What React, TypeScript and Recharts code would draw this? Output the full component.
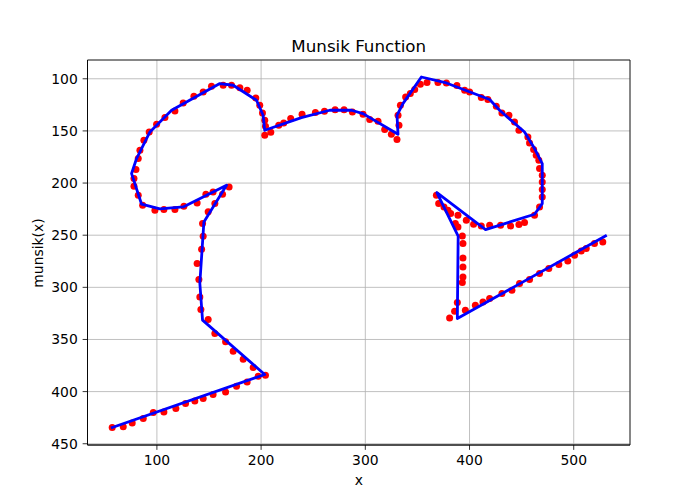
import React from 'react';
import { ScatterChart, Scatter, XAxis, YAxis, CartesianGrid, ReferenceArea } from 'recharts';

// Red sample points (x, munsik(x))
const pointsX = [
  57.1, 67.7, 76.3, 86.9, 96.5, 106.7, 118.2, 127.5, 136.4, 144.4, 153.9, 165.9, 176.4, 186.6, 197.2, 204.2,
  192.4, 182.8, 173.2, 165.9, 155.6, 149.2, 142.2, 141.2, 140.3, 138.6, 142.9, 144.4, 143.8, 149.2, 155.6, 163.0,
  169.3, 153.9, 147.0, 138.6, 125.9, 117.3, 106.7, 98.1, 86.3, 82.1, 78.0, 78.0, 79.9, 82.1, 83.7, 87.5, 92.6,
  99.7, 107.7, 117.3, 125.2, 135.5, 144.4, 152.4, 163.6, 171.6, 179.6, 186.6, 194.9, 198.7, 201.3, 203.5, 204.2,
  203.5, 209.3, 216.9, 221.7, 228.4,
  239.3, 252.1, 260.8, 271.0, 279.6, 287.6, 297.8, 304.2, 312.2, 318.6, 325.0, 330.4, 332.3, 331.4, 333.7, 338.7, 343.2,
  347.4, 352.8, 359.2, 369.7, 377.8, 387.9, 395.3, 400.1, 411.3, 417.6, 425.7, 431.1, 437.8, 443.2, 447.4, 456.0,
  457.6, 461.5, 464.0, 466.5, 467.2, 469.8, 469.8, 469.8, 469.8, 467.2, 462.4,
  452.8, 447.4, 439.4, 429.8, 419.3, 411.3, 403.9, 396.9, 388.9, 381.9, 379.3, 375.5, 370.4, 368.2, 386.4, 388.9,
  393.1, 393.7, 393.7, 393.7, 393.7, 393.1, 388.3, 385.7, 380.9, 396.0, 405.6, 412.9, 419.3, 431.1, 440.7, 448.0,
  457.6, 467.2,
  476.1, 485.7, 494.3, 500.8, 507.2, 512.0, 519.9, 527.9,
];
const pointsY = [
  434.4, 433.8, 430.0, 425.8, 420.0, 419.5, 416.2, 411.4, 408.9, 406.6, 402.8, 400.3, 394.8, 390.7, 385.2, 384.3,
  376.9, 368.9, 361.3, 352.3, 344.3, 330.9, 321.3, 309.2, 292.5, 277.2, 263.5, 251.0, 238.8, 227.6, 219.6, 210.7,
  203.7, 208.5, 210.7, 219.1, 222.2, 225.4, 225.4, 226.1, 221.3, 211.7, 203.1, 195.7, 187.1, 176.5, 168.6, 159.0, 151.0,
  143.6, 137.2, 130.9, 123.2, 116.8, 112.7, 107.2, 106.2, 106.2, 108.5, 111.0, 118.4, 125.4, 132.8, 139.8, 145.5,
  154.2, 151.3, 144.6, 142.4, 138.2,
  134.0, 132.4, 131.2, 129.6, 129.6, 131.8, 134.0, 139.1, 140.7, 148.7, 153.2, 158.3, 144.6, 135.0, 125.4, 117.4, 114.2,
  110.4, 105.3, 103.6, 103.6, 104.0, 106.5, 111.0, 112.6, 118.0, 119.9, 126.4, 132.8, 135.0, 141.4, 149.4, 155.8,
  161.6, 167.9, 173.3, 178.1, 186.1, 192.5, 198.9, 206.2, 213.3, 222.9, 230.9,
  237.9, 239.8, 241.1, 240.5, 240.5, 241.1, 239.5, 235.7, 230.9, 229.3, 226.1, 222.9, 219.7, 211.7, 238.8, 242.1,
  250.7, 258.0, 271.8, 280.4, 290.0, 295.4, 314.6, 322.9, 329.3, 322.0, 317.2, 314.0, 310.7, 306.0, 302.8, 296.4,
  292.5, 286.8,
  282.0, 278.1, 274.7, 269.2, 265.1, 262.8, 258.0, 256.5,
];

// Blue polyline vertices
const lineX = [
  57.1, 203.5, 143.8, 141.2, 145.1, 166.8, 125.2, 102.9, 85.3, 75.7, 80.5, 93.3, 114.1, 160.4, 173.2, 195.6,
  201.9, 203.5, 238.7, 265.9, 286.7, 297.8, 331.4, 330.4, 336.1, 353.8, 377.8, 419.3, 428.9, 452.8, 462.4, 469.8,
  469.8, 462.4, 415.4, 368.7, 389.1, 388.3, 530.5,
];
const lineY = [
  434.4, 383.6, 331.5, 296.1, 237.3, 202.1, 222.9, 224.8, 220.3, 190.9, 176.5, 151.0, 130.2, 104.6, 106.2, 120.6,
  135.0, 149.4, 137.2, 130.2, 130.2, 133.4, 153.2, 135.0, 123.8, 98.3, 104.0, 119.9, 130.2, 151.0, 166.9, 181.3,
  219.7, 229.9, 244.6, 209.1, 251.0, 329.9, 250.7,
];

const xTicks = [100, 200, 300, 400, 500];
const yTicks = [100, 150, 200, 250, 300, 350, 400, 450];

const points = pointsX.map((x, i) => ({ x, y: pointsY[i] }));
const lineData = lineX.map((x, i) => ({ x, y: lineY[i] }));

const X_DOMAIN: [number, number] = [33.4, 554];
const Y_DOMAIN: [number, number] = [82, 451.2];

const font = '"DejaVu Sans", sans-serif';
const tickStyle = { fontFamily: font, fontSize: 13.9, fill: '#000' };

const Dot = (props: any) => {
  const { cx, cy } = props;
  if (cx == null || cy == null) return <g />;
  return <circle cx={cx} cy={cy} r={3.5} fill="#ff0000" />;
};
const NoDot = () => <g />;

export default function App() {
  return (
    <div style={{ position: 'absolute', left: 0, top: 0, width: 700, height: 500, background: '#fff' }}>
      <ScatterChart width={700} height={500} margin={{ top: 60, right: 70, bottom: 15, left: 27.5 }}>
        <CartesianGrid stroke="#b0b0b0" strokeWidth={0.8} />
        <XAxis
          type="number"
          dataKey="x"
          domain={X_DOMAIN}
          ticks={xTicks}
          allowDataOverflow
          height={40}
          tick={tickStyle}
          tickSize={4.86}
          tickMargin={4.86}
          axisLine={{ stroke: '#000', strokeWidth: 0.8 }}
          tickLine={{ stroke: '#000', strokeWidth: 0.8 }}
        />
        <YAxis
          type="number"
          dataKey="y"
          domain={Y_DOMAIN}
          ticks={yTicks}
          reversed
          allowDataOverflow
          width={60}
          tick={tickStyle}
          tickSize={4.86}
          tickMargin={4.86}
          axisLine={{ stroke: '#000', strokeWidth: 0.8 }}
          tickLine={{ stroke: '#000', strokeWidth: 0.8 }}
        />
        <Scatter data={points} shape={Dot} isAnimationActive={false} />
        <Scatter
          data={lineData}
          shape={NoDot}
          line={{ stroke: '#0000ff', strokeWidth: 2.8, fill: 'none', strokeLinejoin: 'round', strokeLinecap: 'square' }}
          lineJointType="linear"
          isAnimationActive={false}
        />
        <ReferenceArea
          x1={X_DOMAIN[0]}
          x2={X_DOMAIN[1]}
          y1={Y_DOMAIN[0]}
          y2={Y_DOMAIN[1]}
          fill="none"
          fillOpacity={0}
          stroke="#000"
          strokeWidth={0.8}
          ifOverflow="visible"
        />
      </ScatterChart>
      <div
        style={{
          position: 'absolute', left: 87.5, width: 542.5, top: 36, textAlign: 'center',
          fontFamily: font, fontSize: 16.7, lineHeight: '20px', color: '#000',
        }}
      >
        Munsik Function
      </div>
      <div
        style={{
          position: 'absolute', left: 87.5, width: 542.5, top: 471, textAlign: 'center',
          fontFamily: font, fontSize: 13.9, lineHeight: '18px', color: '#000',
        }}
      >
        x
      </div>
      <div
        style={{
          position: 'absolute', left: 38 - 60, top: 252.5 - 9, width: 120, height: 18, textAlign: 'center',
          fontFamily: font, fontSize: 13.9, lineHeight: '18px', color: '#000', transform: 'rotate(-90deg)',
        }}
      >
        munsik(x)
      </div>
    </div>
  );
}
